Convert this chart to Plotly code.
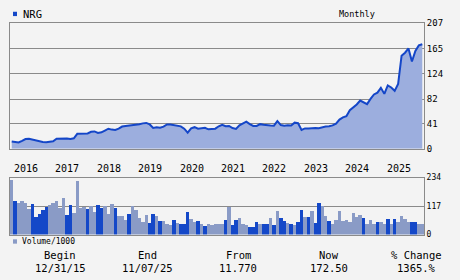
import plotly.graph_objects as go
import pandas as pd

W, H = 460, 280

def px(x):
    return x / W

def py(y):
    return 1 - y / H

# ---- data ----
months = [str(p) for p in pd.period_range("2015-12", "2025-11", freq="M")]

price = [
    11.77,
    10.6, 10.2, 13.0, 16.0, 16.5, 15.0, 13.8, 12.5, 11.2, 10.6, 11.5, 12.3,      # 2016
    16.5, 16.8, 17.5, 16.8, 16.0, 17.2, 24.6, 24.8, 25.6, 25.2, 27.9, 28.5,      # 2017
    26.0, 27.0, 30.0, 33.0, 31.5, 31.0, 33.0, 36.5, 37.5, 38.0, 38.5, 39.6,      # 2018
    40.5, 41.8, 42.5, 40.0, 34.3, 35.3, 34.5, 36.3, 40.0, 40.0, 39.0, 37.5,      # 2019
    36.8, 33.0, 26.5, 33.5, 35.5, 33.0, 33.8, 34.4, 32.0, 32.0, 33.0, 37.0,      # 2020
    39.5, 37.0, 37.5, 34.0, 32.5, 38.5, 41.0, 44.5, 40.5, 37.5, 37.5, 40.5,      # 2021
    39.5, 39.5, 38.4, 38.0, 45.5, 39.0, 38.0, 38.5, 38.3, 43.0, 42.0, 31.0,      # 2022
    33.5, 33.5, 34.3, 34.1, 33.8, 35.5, 36.5, 37.0, 38.5, 41.4, 48.0, 51.7,      # 2023
    53.6, 63.5, 67.7, 73.1, 79.5, 77.0, 73.5, 82.2, 89.5, 92.5, 100.5, 90.5,     # 2024
    104.5, 101.0, 95.5, 107.0, 153.5, 158.5, 165.5, 144.0, 161.5, 170.5, 172.5,  # 2025
]

volume = [
    225, 140, 130, 140, 130, 106, 128, 73, 85, 102, 114, 124, 132, 140, 110, 150,
    82, 124, 90, 221, 111, 114, 106, 119, 93, 124, 111, 119, 85, 128, 112, 78,
    78, 62, 85, 119, 102, 70, 53, 81, 49, 85, 78, 57, 57, 46, 42, 61,
    49, 45, 45, 93, 65, 53, 57, 46, 37, 45, 41, 45, 44, 45, 61, 114,
    42, 61, 69, 45, 42, 33, 33, 53, 45, 45, 45, 69, 42, 100, 69, 56,
    49, 45, 42, 53, 104, 74, 74, 100, 49, 132, 119, 78, 57, 45, 61, 97,
    57, 61, 53, 89, 74, 81, 69, 45, 61, 45, 53, 53, 45, 65, 45, 65,
    53, 77, 65, 53, 53, 53, 45, 45,
]

# D = dark bar, L = light bar
vol_kind = list(
    "LDLLLLDDDDDLLLLL"
    "DDLLLLDLLDDLLLDL"
    "LLDLLLLLDDLDLLLD"
    "LDDDLLDLDLLLLLDL"
    "DDLLLDDDLDDLDLDD"
    "LDLDDLDLDDLLDLLL"
    "LLLLLLDLLLDLLDLD"
    "LLLLDDLL"
)

years = ["2016", "2017", "2018", "2019", "2020", "2021", "2022", "2023", "2024", "2025"]

price_ticks = [0, 41, 82, 124, 165, 207]
vol_ticks = [0, 117, 234]

summary_heads = ["Begin", "End", "From", "Now", "% Change"]
summary_vals = ["12/31/15", "11/07/25", "11.770", "172.50", "1365.%"]

# ---- styles ----
BG = "#f3f3f3"
GRID = "#8a8a8a"
LINE = "#1446c8"
FILL = "#9caede"
DARK = "#1448c8"
LIGHT = "#8a9bc6"
FONT = "DejaVu Sans Mono"

idx = list(range(len(months)))

fig = go.Figure()
fig.add_trace(go.Scatter(
    x=idx, y=price, mode="lines",
    line=dict(color=LINE, width=2),
    fill="tozeroy", fillcolor=FILL,
    xaxis="x", yaxis="y", hoverinfo="skip",
))
fig.add_trace(go.Bar(
    x=idx, y=volume, width=1.0,
    marker=dict(color=[DARK if k == "D" else LIGHT for k in vol_kind], line=dict(width=0)),
    xaxis="x2", yaxis="y2", hoverinfo="skip",
))

xr = [-0.5, len(months) - 0.5]
axis_common = dict(showline=True, mirror=True, linecolor=GRID, linewidth=1,
                   zeroline=False, fixedrange=True)

fig.update_layout(
    width=W, height=H,
    margin=dict(l=0, r=0, t=0, b=0),
    paper_bgcolor=BG, plot_bgcolor=BG,
    showlegend=False, bargap=0,
    font=dict(family=FONT, color="black"),
    xaxis=dict(domain=[px(10), px(424)], range=xr, anchor="y",
               showgrid=False, showticklabels=False, ticks="", **axis_common),
    yaxis=dict(domain=[py(149), py(19)], range=[0, 207], side="right", anchor="x",
               tickvals=price_ticks, ticktext=[str(t) for t in price_ticks],
               showgrid=True, gridcolor=GRID, gridwidth=1, ticks="",
               tickfont=dict(size=9, family=FONT), **axis_common),
    xaxis2=dict(domain=[px(10), px(424)], range=xr, anchor="y2",
                showgrid=False, showticklabels=False, ticks="", **axis_common),
    yaxis2=dict(domain=[py(238), py(179)], range=[0, 234], side="right", anchor="x2",
                tickvals=vol_ticks, ticktext=[str(t) for t in vol_ticks],
                showgrid=True, gridcolor=GRID, gridwidth=1, ticks="",
                tickfont=dict(size=8, family=FONT), **axis_common),
)

ann = []
ann.append(dict(text="NRG", x=px(21), y=py(9), xref="paper", yref="paper",
                xanchor="left", yanchor="middle", showarrow=False, font=dict(size=10.5)))
ann.append(dict(text="Monthly", x=px(357), y=py(9), xref="paper", yref="paper",
                xanchor="center", yanchor="middle", showarrow=False, font=dict(size=8.5)))
for yr in years:
    i = months.index(yr + "-01")
    ann.append(dict(text=yr, x=i - 0.9, y=py(170), xref="x", yref="paper",
                    xanchor="left", yanchor="middle", showarrow=False, font=dict(size=10)))
ann.append(dict(text="Volume/1000", x=px(20), y=py(245), xref="paper", yref="paper",
                xanchor="left", yanchor="middle", showarrow=False, font=dict(size=8)))
cols = [60, 147, 238, 329, 416]
for cx, h, v in zip(cols, summary_heads, summary_vals):
    ann.append(dict(text=h, x=px(cx), y=py(259), xref="paper", yref="paper",
                    xanchor="center", yanchor="middle", showarrow=False, font=dict(size=10.5)))
    ann.append(dict(text=v, x=px(cx), y=py(273), xref="paper", yref="paper",
                    xanchor="center", yanchor="middle", showarrow=False, font=dict(size=10.5)))
fig.update_layout(annotations=ann)

fig.update_layout(shapes=[
    dict(type="rect", xref="paper", yref="paper", x0=px(13), x1=px(17), y0=py(11.5), y1=py(7),
         fillcolor=DARK, line=dict(width=0)),
    dict(type="rect", xref="paper", yref="paper", x0=px(13), x1=px(17), y0=py(247.5), y1=py(243),
         fillcolor=LIGHT, line=dict(width=0)),
])

fig.write_html("out.html")
